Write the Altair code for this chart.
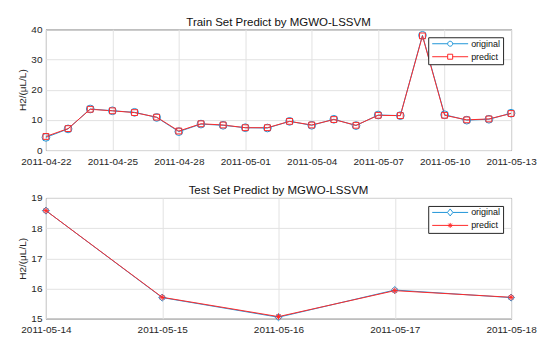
import altair as alt
import pandas as pd

# ---------------- data ----------------
train_dates = [
    "2011-04-22", "2011-04-23", "2011-04-24", "2011-04-25", "2011-04-26",
    "2011-04-27", "2011-04-28", "2011-04-29", "2011-04-30", "2011-05-01",
    "2011-05-02", "2011-05-03", "2011-05-04", "2011-05-05", "2011-05-06",
    "2011-05-07", "2011-05-08", "2011-05-09", "2011-05-10", "2011-05-11",
    "2011-05-12", "2011-05-13",
]
train_original = [4.2, 7.0, 13.6, 13.0, 12.5, 10.8, 6.1, 8.6, 8.2, 7.4, 7.3,
                  9.5, 8.2, 10.2, 8.1, 11.6, 11.4, 38.0, 11.7, 9.9, 10.2, 12.2]
train_predict = [4.5, 7.1, 13.5, 13.0, 12.4, 10.9, 6.3, 8.7, 8.3, 7.4, 7.4,
                 9.5, 8.3, 10.1, 8.2, 11.5, 11.4, 37.8, 11.5, 10.0, 10.3, 12.1]

test_dates = ["2011-05-14", "2011-05-15", "2011-05-16", "2011-05-17", "2011-05-18"]
test_original = [18.58, 15.70, 15.05, 15.95, 15.70]
test_predict = [18.58, 15.71, 15.07, 15.93, 15.71]

train_ticks = ["2011-04-22", "2011-04-25", "2011-04-28", "2011-05-01",
               "2011-05-04", "2011-05-07", "2011-05-10", "2011-05-13"]
test_ticks = test_dates
train_yticks = [0, 10, 20, 30, 40]
test_yticks = [15, 16, 17, 18, 19]

series_names = ["original", "predict"]
BLUE = "#2196d8"
RED = "#ff2a2a"
FONT = "Liberation Sans"


def dt(s):
    y, m, d = (int(v) for v in s.split("-"))
    return alt.DateTime(year=y, month=m, date=d, utc=True)


def long_df(dates, orig, pred):
    rows = []
    for d, v in zip(dates, orig):
        rows.append({"date": d, "value": v, "series": "original"})
    for d, v in zip(dates, pred):
        rows.append({"date": d, "value": v, "series": "predict"})
    return pd.DataFrame(rows)


# custom marker paths (unit radius)
ASTER = "M-1,0H1M0,-1V1M-0.7,-0.7L0.7,0.7M-0.7,0.7L0.7,-0.7"
# legend symbols: line with a marker in the middle
LEG_CIRCLE = "M-1,0H5.2M7.2,0H13.4M5.2,0A1,1 0 1,1 7.2,0A1,1 0 1,1 5.2,0"
LEG_SQUARE = "M-1,0H5.2M7.2,0H13.4M5.2,-1H7.2V1H5.2Z"
LEG_DIAMOND = "M-1,0H5.1M7.3,0H13.4M5.1,0L6.2,-1.4L7.3,0L6.2,1.4Z"
LEG_ASTER = "M-1,0H13.4M5.2,0H7.2M6.2,-1V1M5.5,-0.7L6.9,0.7M5.5,0.7L6.9,-0.7"


def panel(df, title, ticks, yticks, ydom, marks, legend_shapes):
    xdom = [dt(df["date"].min()), dt(df["date"].max())]
    x = alt.X("date:T", title=None,
              scale=alt.Scale(type="utc", domain=xdom, nice=False),
              axis=alt.Axis(values=[dt(t) for t in ticks],
                            labelExpr="utcFormat(datum.value, '%Y-%m-%d')",
                            labelAngle=0, labelOverlap=False,
                            labelFlush=False, labelPadding=6))
    y = alt.Y("value:Q", title="H2/(μL/L)",
              scale=alt.Scale(domain=ydom, nice=False, zero=False),
              axis=alt.Axis(values=yticks, labelPadding=4))
    base = alt.Chart(df).encode(x=x, y=y)
    layers = []
    colors = {"original": BLUE, "predict": RED}
    for s in series_names:
        layers.append(base.transform_filter(alt.datum.series == s)
                      .mark_line(color=colors[s], strokeWidth=1))
    for s in series_names:
        shape, size = marks[s]
        layers.append(base.transform_filter(alt.datum.series == s)
                      .mark_point(shape=shape, size=size, filled=False,
                                  color=colors[s], strokeWidth=1, opacity=1))
    legend_layer = base.transform_filter("false").mark_point(
        filled=False, strokeWidth=1, opacity=1).encode(
        color=alt.Color("series:N",
                        scale=alt.Scale(domain=series_names, range=[BLUE, RED]),
                        legend=alt.Legend(title=None)),
        shape=alt.Shape("series:N",
                        scale=alt.Scale(domain=series_names, range=legend_shapes),
                        legend=alt.Legend(title=None)),
    )
    layers.append(legend_layer)
    return alt.layer(*layers).properties(
        width=466, height=121,
        title=alt.TitleParams(title, fontSize=11.5, fontWeight="normal",
                              font=FONT, color="#111111", offset=-4),
    )


train_df = long_df(train_dates, train_original, train_predict)
test_df = long_df(test_dates, test_original, test_predict)

top = panel(train_df, "Train Set Predict by MGWO-LSSVM", train_ticks,
            train_yticks, [0, 40],
            {"original": ("circle", 60), "predict": ("square", 34)},
            [LEG_CIRCLE, LEG_SQUARE])
bottom = panel(test_df, "Test Set Predict by MGWO-LSSVM", test_ticks,
               test_yticks, [15, 19],
               {"original": ("diamond", 50), "predict": (ASTER, 40)},
               [LEG_DIAMOND, LEG_ASTER])

chart = alt.vconcat(top, bottom, spacing=18).resolve_scale(
    color="independent", shape="independent"
).properties(
    padding={"left": 9, "top": 8, "right": 5, "bottom": 5},
    background="white",
).configure_view(
    stroke="#262626", strokeWidth=1
).configure_axis(
    labelFont=FONT, labelFontSize=10, labelColor="#262626",
    titleFont=FONT, titleFontSize=10, titleFontWeight="normal",
    titleColor="#262626", titlePadding=3,
    domain=False, ticks=False, gridColor="#e2e2e2", gridWidth=1,
).configure_legend(
    orient="top-right", offset=8, strokeColor="#262626", fillColor="white",
    padding=2, labelFont=FONT, labelFontSize=9, labelColor="#111111",
    symbolSize=25, symbolStrokeWidth=1, labelOffset=32, rowPadding=3,
    cornerRadius=0,
)

chart.save("out.html", embed_options={"renderer": "svg", "actions": False})
